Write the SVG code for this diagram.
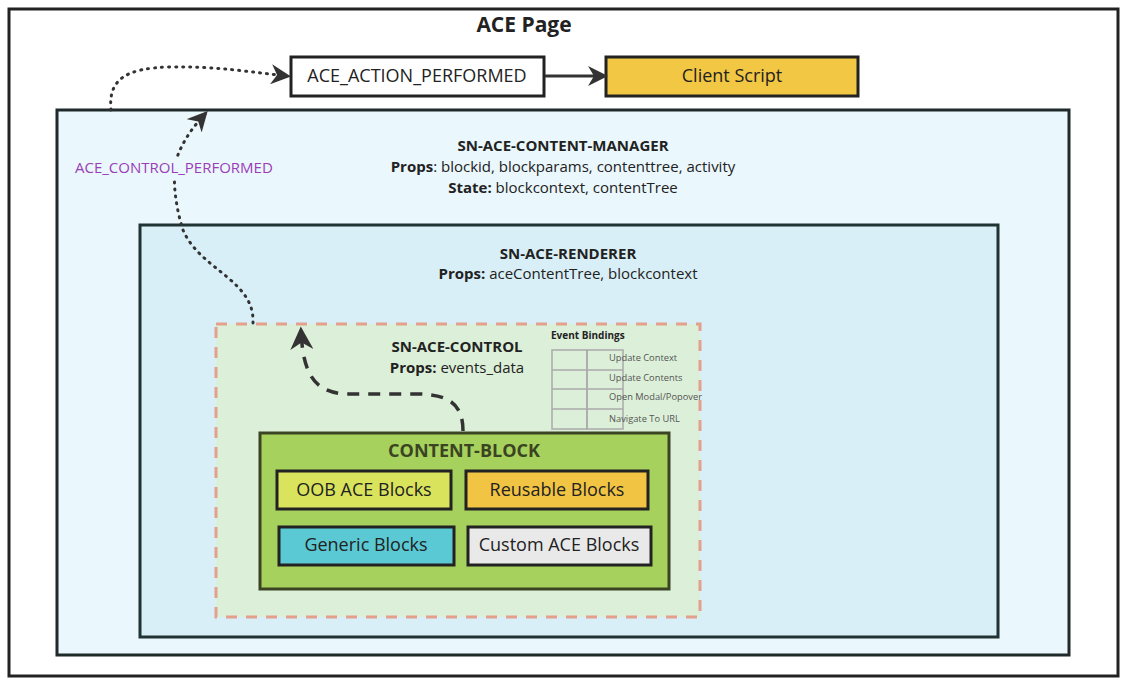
<svg xmlns="http://www.w3.org/2000/svg" width="1126" height="686" viewBox="0 0 1126 686">
<defs>
<style>
text{font-family:"Open Sans","Noto Sans","Liberation Sans",sans-serif;fill:#222;}
.b{font-weight:bold;}
.frame{fill:none;stroke:#222;stroke-width:3;}
.box{stroke:#222;stroke-width:3;}
.blk{stroke:#222;stroke-width:3;}
.eb{font-size:9.3px;fill:#555;}
.cell{fill:none;stroke:#aaa;stroke-width:1.5;}
</style>
<marker id="ah2" viewBox="0 0 10 10" refX="8" refY="5" markerWidth="20" markerHeight="20" orient="auto" markerUnits="userSpaceOnUse">
<path d="M0,0 L10,5 L0,10 L3,5 Z" fill="#333"/>
</marker>
<marker id="ah3" viewBox="0 0 10 10" refX="8" refY="5" markerWidth="23" markerHeight="23" orient="auto" markerUnits="userSpaceOnUse">
<path d="M0,0 L10,5 L0,10 L3,5 Z" fill="#333"/>
</marker>
</defs>
<rect width="1126" height="686" fill="#fff"/>
<g id="ace-page">
<rect class="frame" x="9" y="9" width="1109" height="667"/>
<text class="b" x="524" y="32" font-size="21" text-anchor="middle">ACE Page</text>
</g>
<g id="content-manager">
<rect x="57" y="110" width="1012" height="545" fill="#eaf7fc" stroke="#1f2a2a" stroke-width="3"/>
<text class="b" x="563" y="151" font-size="15" text-anchor="middle">SN-ACE-CONTENT-MANAGER</text>
<text x="563" y="172" font-size="15" text-anchor="middle"><tspan class="b">Props</tspan>: blockid, blockparams, contenttree, activity</text>
<text x="563" y="193" font-size="15" text-anchor="middle"><tspan class="b">State:</tspan> blockcontext, contentTree</text>
</g>
<g id="renderer">
<rect x="140" y="225" width="858" height="412" fill="#d9eff7" stroke="#1f3333" stroke-width="3"/>
<text class="b" x="568" y="259" font-size="15" text-anchor="middle">SN-ACE-RENDERER</text>
<text x="568" y="279" font-size="15" text-anchor="middle"><tspan class="b">Props:</tspan> aceContentTree, blockcontext</text>
</g>
<g id="control">
<rect x="216" y="324" width="484" height="293" fill="#dcefd8" stroke="#e4a08c" stroke-width="3" stroke-dasharray="11,9"/>
<text class="b" x="457" y="352" font-size="15" text-anchor="middle">SN-ACE-CONTROL</text>
<text x="457" y="373" font-size="15" text-anchor="middle"><tspan class="b">Props:</tspan> events_data</text>
</g>
<g id="event-bindings">
<text class="b" x="551" y="339" font-size="10">Event Bindings</text>
<rect class="cell" x="552" y="350" width="35" height="79"/>
<rect class="cell" x="587" y="350" width="36" height="79"/>
<line class="cell" x1="552" y1="370" x2="623" y2="370"/>
<line class="cell" x1="552" y1="389" x2="623" y2="389"/>
<line class="cell" x1="552" y1="409" x2="623" y2="409"/>
<text class="eb" x="609" y="361">Update Context</text>
<text class="eb" x="609" y="381">Update Contents</text>
<text class="eb" x="609" y="400">Open Modal/Popover</text>
<text class="eb" x="609" y="422">Navigate To URL</text>
</g>
<g id="content-block">
<rect x="260" y="433" width="409" height="156" fill="#a7d15d" stroke="#3a4422" stroke-width="3"/>
<text class="b" x="464" y="457" font-size="18" text-anchor="middle" style="fill:#3a4422">CONTENT-BLOCK</text>
</g>
<g id="oob-blocks">
<rect class="blk" x="277" y="471" width="174" height="38" fill="#d9e45c"/>
<text x="364" y="496" font-size="18" text-anchor="middle">OOB ACE Blocks</text>
</g>
<g id="reusable-blocks">
<rect class="blk" x="466" y="471" width="182" height="38" fill="#f2c443"/>
<text x="557" y="496" font-size="18" text-anchor="middle">Reusable Blocks</text>
</g>
<g id="generic-blocks">
<rect class="blk" x="279" y="527" width="175" height="38" fill="#5bc9d3"/>
<text x="366" y="551" font-size="18" text-anchor="middle">Generic Blocks</text>
</g>
<g id="custom-blocks">
<rect class="blk" x="468" y="527" width="183" height="38" fill="#e9e9e9"/>
<text x="559" y="551" font-size="18" text-anchor="middle">Custom ACE Blocks</text>
</g>
<g id="ace-action-performed">
<rect class="box" x="291" y="57" width="253" height="39" fill="#fff"/>
<text x="417" y="82" font-size="18" text-anchor="middle">ACE_ACTION_PERFORMED</text>
</g>
<g id="client-script">
<rect class="box" x="606" y="57" width="252" height="39" fill="#f2c744"/>
<text x="732" y="82" font-size="18" text-anchor="middle">Client Script</text>
</g>
<g id="connectors" fill="none" stroke="#333">
<line x1="545" y1="76" x2="604" y2="76" stroke-width="3" marker-end="url(#ah2)"/>
<path d="M111,110 C108,80 125,68 170,67 C215,66 250,72 287,76" stroke-width="3" stroke-dasharray="1,6" stroke-linecap="round" marker-end="url(#ah2)"/>
<path d="M253,323 C255,280 200,270 183,230 C175,205 170,170 180,150 C187,135 195,125 205,114" stroke-width="3" stroke-dasharray="1,6" stroke-linecap="round" marker-end="url(#ah2)"/>
<path d="M463,431 C463,405 450,395 420,394 L345,394 C315,392 303,375 301,331" stroke-width="3.5" stroke-dasharray="12,9" marker-end="url(#ah3)"/>
<rect x="73" y="159" width="203" height="19" fill="#eaf7fc" stroke="none"/>
<text x="75" y="173" font-size="15" stroke="none" style="fill:#9b3cb8">ACE_CONTROL_PERFORMED</text>
</g>
</svg>
